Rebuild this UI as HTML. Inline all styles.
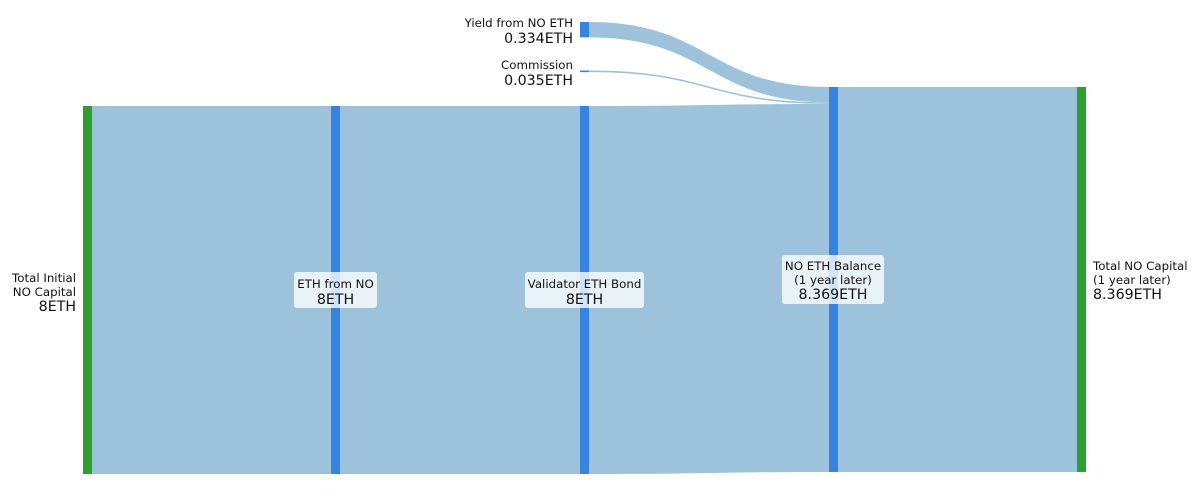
<!DOCTYPE html>
<html><head><meta charset="utf-8"><style>
body{margin:0;background:#fff;}
svg{display:block;font-family:"DejaVu Sans","Liberation Sans",sans-serif;}
</style></head><body>
<svg id="chart" width="1199" height="499"></svg>
<script>
const nodeNames=["Total Initial NO Capital","ETH from NO","Validator ETH Bond","Yield from NO ETH","Commission","NO ETH Balance (1 year later)","Total NO Capital (1 year later)"];
const nodeValues=[8,8,8,0.334,0.035,8.369,8.369];
const linkSources=[0,1,3,4,2,5];
const linkTargets=[1,2,5,5,5,6];
const linkValues=[8,8,0.334,0.035,8,8.369];
const NS="http://www.w3.org/2000/svg";
const svg=document.getElementById('chart');
const scale=46; // px per ETH
const colX=[83,331,580,580,580,829,1077];
const nodeTop=[106,106,106,22,70.5,87,87];
const W=9;
const sh=v=>v*scale;
function mk(t,a){const e=document.createElementNS(NS,t);for(const k in a)e.setAttribute(k,a[k]);svg.appendChild(e);return e;}
const outOff=nodeNames.map(()=>0), inOff=nodeNames.map(()=>0);
linkValues.forEach((v,i)=>{
  const s=linkSources[i],t=linkTargets[i],h=sh(v);
  const x0=colX[s]+W,x1=colX[t];
  const y0=nodeTop[s]+outOff[s],y1=nodeTop[t]+inOff[t];
  outOff[s]+=h;inOff[t]+=h;
  const xm=(x0+x1)/2;
  const d=`M${x0},${y0}C${xm},${y0} ${xm},${y1} ${x1},${y1}L${x1},${y1+h}C${xm},${y1+h} ${xm},${y0+h} ${x0},${y0+h}Z`;
  const p=mk('path',{d,fill:'#9cc2dc'});
  
  
});
nodeValues.forEach((v,i)=>{
  const col=(i===0||i===6)?'#2ca02c':'#3584e4';
  const r=mk('rect',{x:colX[i],y:nodeTop[i],width:W,height:Math.max(sh(v),1.5),fill:col});
  
  
});
function txt(x,y,s,size,anchor,name){const t=mk('text',{x,y,'font-size':size,'text-anchor':anchor,fill:'#111'});t.textContent=s;return t;}
function box(x,y,w,h,name){const r=mk('rect',{x,y,width:w,height:h,rx:3,fill:'rgba(255,255,255,0.78)'});}
const S=11.8, L=14.2;
txt(76,282,'Total Initial',S,'end','label-total-initial-1');
txt(76,296,'NO Capital',S,'end','label-total-initial-2');
txt(76,311,'8ETH',L,'end','value-total-initial');
box(294,272,83,36,'label-box-eth-from-no');
txt(335.5,288,'ETH from NO',S,'middle','label-eth-from-no');
txt(335.5,304,'8ETH',L,'middle','value-eth-from-no');
box(525,272,119,36,'label-box-validator-bond');
txt(584.5,288,'Validator ETH Bond',S,'middle','label-validator-bond');
txt(584.5,304,'8ETH',L,'middle','value-validator-bond');
txt(573,27,'Yield from NO ETH',S,'end','label-yield');
txt(573,43,'0.334ETH',L,'end','value-yield');
txt(573,69,'Commission',S,'end','label-commission');
txt(573,85,'0.035ETH',L,'end','value-commission');
box(782,255,102,49,'label-box-balance');
txt(833,270,'NO ETH Balance',S,'middle','label-balance-1');
txt(833,284,'(1 year later)',S,'middle','label-balance-2');
txt(833,299,'8.369ETH',L,'middle','value-balance');
txt(1093,270,'Total NO Capital',S,'start','label-total-final-1');
txt(1093,284,'(1 year later)',S,'start','label-total-final-2');
txt(1093,299,'8.369ETH',L,'start','value-total-final');
</script>
</body></html>
